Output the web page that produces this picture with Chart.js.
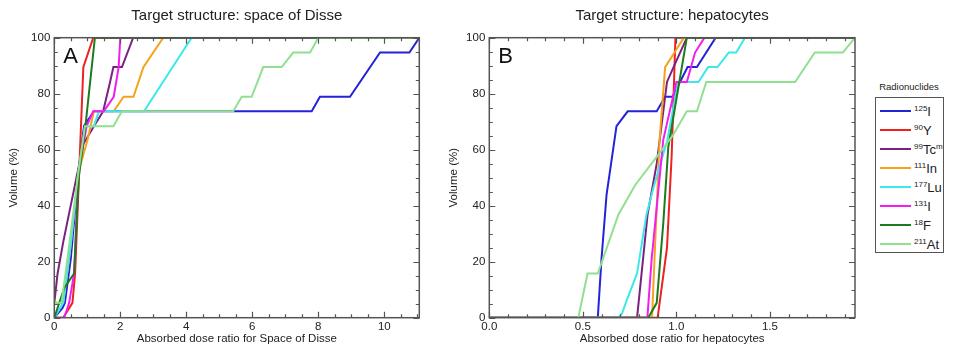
<!DOCTYPE html>
<html>
<head>
<meta charset="utf-8">
<script src="https://cdn.jsdelivr.net/npm/chart.js@4.4.1/dist/chart.umd.min.js"></script>
<style>
  body { margin: 0; background: #fff; font-family: "Liberation Sans", Arial, sans-serif; }
  #wrap { position: relative; width: 953px; height: 346px; overflow: hidden; }
  #chartA { position: absolute; left: 0; top: 0; }
  #chartB { position: absolute; left: 440px; top: 0; }
  #legendTitle { position: absolute; left: 872px; width: 74px; top: 81px; text-align: center; font-size: 9.5px; color: #222; }
  #legend { position: absolute; left: 875px; top: 97px; width: 67px; height: 154px; border: 1.5px solid #555; }
  .item { position: absolute; left: 0; height: 19px; display: flex; align-items: center; }
  .swatch { margin-left: 4px; width: 31px; height: 2px; }
  .lab { margin-left: 3px; font-size: 13px; line-height: 1; color: #222; white-space: nowrap; }
  .lab sup { font-size: 8px; vertical-align: 5px; line-height: 0; }
</style>
</head>
<body>
<div id="wrap">
  <canvas id="chartA" width="430" height="346"></canvas>
  <canvas id="chartB" width="420" height="346"></canvas>
  <div id="legendTitle">Radionuclides</div>
  <div id="legend"></div>
</div>
<script>
// radionuclide labels (mass number, symbol, metastable suffix)
const massNumbers = ["125", "90", "99", "111", "177", "131", "18", "211"];
const symbols = ["I", "Y", "Tc", "In", "Lu", "I", "F", "At"];
const suffixes = ["", "", "m", "", "", "", "", ""];
const colors = ["#2323d8", "#ee2020", "#7b2182", "#f7a21b", "#3de8ea", "#f21df2", "#1d7a1d", "#90e090"];

// tick labels
const yTicks = [0, 20, 40, 60, 80, 100];
const xTicksA = [0, 2, 4, 6, 8, 10];
const xTickLabelsA = ["0", "2", "4", "6", "8", "10"];
const xTicksB = [0, 0.5, 1.0, 1.5];
const xTickLabelsB = ["0.0", "0.5", "1.0", "1.5"];

// panel A: space of Disse, [dose ratio, volume %]
const i125A = [[0,0],[0.25,3.5],[0.32,5.3],[0.5,21.1],[0.73,52],[0.9,68.4],[1.2,73.7],[7.8,73.7],[8.05,78.9],[8.96,78.9],[9.87,94.7],[10.76,94.7],[11.06,100]];
const y90A = [[0,0],[0.27,0],[0.55,5.3],[0.63,15.8],[0.88,89.5],[1.18,100],[11.06,100]];
const tc99mA = [[0,5.3],[0.1,15.8],[0.27,27],[0.88,62],[1.2,68.4],[1.48,73.7],[1.69,84.2],[1.79,89.5],[2.05,89.5],[2.39,100],[11.06,100]];
const in111A = [[0,5.3],[0.27,5.3],[0.45,21.1],[0.73,52],[1.0,63.2],[1.2,73.7],[1.8,73.7],[2.1,78.9],[2.4,78.9],[2.7,89.5],[3.3,100],[11.06,100]];
const lu177A = [[0,0],[0.27,5.3],[0.5,26.3],[0.73,52],[0.93,68.4],[1.2,68.4],[1.35,73.7],[2.72,73.7],[4.16,100],[11.06,100]];
const i131A = [[0,0],[0.3,0],[0.45,5.3],[0.6,15.8],[0.73,52],[0.98,68.4],[1.18,73.7],[1.5,73.7],[1.8,78.9],[1.95,89.5],[2.0,100],[11.06,100]];
const f18A = [[0,0],[0.3,10.5],[0.6,15.8],[0.74,50],[0.93,67],[1.23,100],[11.06,100]];
const at211A = [[0,5.3],[0.22,5.3],[0.4,21.1],[0.73,52],[0.93,68.4],[1.79,68.4],[2.05,73.7],[5.42,73.7],[5.68,78.9],[5.98,78.9],[6.33,89.5],[6.89,89.5],[7.24,94.7],[7.75,94.7],[8.0,100],[11.06,100]];

// panel B: hepatocytes
const i125B = [[0,0],[0.58,0],[0.6,21.1],[0.627,44],[0.68,68.4],[0.74,73.7],[0.895,73.7],[0.94,78.9],[0.98,78.9],[1.06,89.5],[1.11,89.5],[1.21,100],[1.955,100]];
const y90B = [[0,0],[0.9,0],[0.95,25],[0.975,58],[0.995,100],[1.955,100]];
const tc99mB = [[0,0],[0.79,0],[0.846,36.8],[0.895,55],[0.95,84.2],[0.985,89.5],[1.056,100],[1.955,100]];
const in111B = [[0,0],[0.87,0],[0.91,63.2],[0.94,89.5],[0.99,94.7],[1.04,100],[1.955,100]];
const lu177B = [[0,0],[0.69,0],[0.71,1.6],[0.735,6.3],[0.79,15.8],[0.84,36.8],[0.88,47],[0.95,63],[1.01,84.2],[1.118,84.2],[1.17,89.5],[1.22,89.5],[1.28,94.7],[1.32,94.7],[1.367,100],[1.955,100]];
const i131B = [[0,0],[0.845,0],[0.868,21],[0.904,45.6],[0.93,63.5],[1.0,84.2],[1.056,84.2],[1.1,94.7],[1.15,100],[1.955,100]];
const f18B = [[0,0],[0.85,0],[0.895,5.3],[0.93,33.7],[0.957,61],[1.056,100],[1.955,100]];
const at211B = [[0,0],[0.476,0],[0.525,15.8],[0.58,15.8],[0.69,36.8],[0.78,47.4],[0.9,57.9],[0.98,65],[1.056,73.7],[1.11,73.7],[1.16,84.2],[1.635,84.2],[1.74,94.7],[1.89,94.7],[1.955,100]];

const seriesA = [i125A, y90A, tc99mA, in111A, lu177A, i131A, f18A, at211A];
const seriesB = [i125B, y90B, tc99mB, in111B, lu177B, i131B, f18B, at211B];

const FONT = '"Liberation Sans", Arial, sans-serif';
const TEXT = "#222";

function isMajor(v, step) {
  const r = v / step;
  return Math.abs(r - Math.round(r)) < 1e-6;
}

// frame with inward ticks on all sides, panel letter and title
const decoPlugin = {
  id: "deco",
  afterDatasetsDraw(chart, args, opts) {
    const { ctx, chartArea: a, scales: { x, y } } = chart;
    ctx.save();
    ctx.strokeStyle = "#555";
    ctx.lineWidth = 1.2;
    ctx.beginPath();
    for (let i = 0; i * opts.xMinor <= x.max + 1e-9; i++) {
      const v = i * opts.xMinor;
      const px = Math.round(x.getPixelForValue(v)) + 0.5;
      const len = isMajor(v, opts.xMajor) ? 6 : 3.5;
      ctx.moveTo(px, a.bottom); ctx.lineTo(px, a.bottom - len);
      ctx.moveTo(px, a.top); ctx.lineTo(px, a.top + len);
    }
    for (let i = 0; i * opts.yMinor <= y.max + 1e-9; i++) {
      const v = i * opts.yMinor;
      const py = Math.round(y.getPixelForValue(v)) + 0.5;
      const len = isMajor(v, opts.yMajor) ? 6 : 3.5;
      ctx.moveTo(a.left, py); ctx.lineTo(a.left + len, py);
      ctx.moveTo(a.right, py); ctx.lineTo(a.right - len, py);
    }
    ctx.stroke();
    ctx.lineWidth = 1.5;
    ctx.strokeRect(a.left, a.top, a.right - a.left, a.bottom - a.top);

    ctx.fillStyle = "#111";
    ctx.font = "22px " + FONT;
    ctx.textAlign = "left";
    ctx.textBaseline = "alphabetic";
    ctx.fillText(opts.letter, a.left + 9, a.top + 25);

    ctx.fillStyle = TEXT;
    ctx.font = "15px " + FONT;
    ctx.textAlign = "center";
    ctx.textBaseline = "middle";
    ctx.fillText(opts.title, (a.left + a.right) / 2, 16);
    ctx.restore();
  }
};

function buildPanel(id, series, cfg) {
  const canvas = document.getElementById(id);
  new Chart(canvas, {
    type: "line",
    data: {
      datasets: series.map((pts, i) => ({
        label: massNumbers[i] + symbols[i] + suffixes[i],
        data: pts.map(([x, y]) => ({ x, y })),
        borderColor: colors[i],
        backgroundColor: colors[i],
        borderWidth: 2,
        pointRadius: 0,
        tension: 0,
        fill: false,
        order: series.length - i
      }))
    },
    options: {
      responsive: false,
      animation: false,
      layout: { padding: { top: 37.7, right: cfg.padRight, left: 0, bottom: 0 } },
      plugins: {
        legend: { display: false },
        tooltip: { enabled: false },
        deco: cfg.deco
      },
      scales: {
        x: {
          type: "linear",
          min: 0,
          max: cfg.xMax,
          grid: { display: false, drawTicks: false },
          border: { display: false },
          afterBuildTicks: (s) => { s.ticks = cfg.xTicks.map((v) => ({ value: v })); },
          afterFit: (s) => { s.height = 28.3; },
          ticks: {
            autoSkip: false,
            maxRotation: 0,
            padding: 2,
            color: TEXT,
            font: { family: FONT, size: 11.5 },
            callback: (v, idx) => cfg.xLabels[idx]
          },
          title: {
            display: true,
            text: cfg.xTitle,
            color: TEXT,
            font: { family: FONT, size: 11.5 },
            padding: { top: 0, bottom: 0 }
          }
        },
        y: {
          min: 0,
          max: 100,
          grid: { display: false, drawTicks: false },
          border: { display: false },
          afterBuildTicks: (s) => { s.ticks = yTicks.map((v) => ({ value: v })); },
          afterFit: (s) => { s.width = cfg.yWidth; },
          ticks: {
            padding: 4,
            color: TEXT,
            font: { family: FONT, size: 11.5 }
          },
          title: {
            display: true,
            text: "Volume (%)",
            color: TEXT,
            font: { family: FONT, size: 11.5 },
            padding: { top: 7, bottom: 0 }
          }
        }
      }
    },
    plugins: [decoPlugin]
  });
}

function buildLegend() {
  const box = document.getElementById("legend");
  massNumbers.forEach((m, i) => {
    const item = document.createElement("div");
    item.className = "item";
    item.style.top = (3.5 + i * 19) + "px";
    const sw = document.createElement("div");
    sw.className = "swatch";
    sw.style.background = colors[i];
    const lab = document.createElement("span");
    lab.className = "lab";
    lab.innerHTML = "<sup>" + m + "</sup>" + symbols[i] + (suffixes[i] ? "<sup>" + suffixes[i] + "</sup>" : "");
    item.appendChild(sw);
    item.appendChild(lab);
    box.appendChild(item);
  });
}

buildPanel("chartA", seriesA, {
  xMax: 11.06,
  xTicks: xTicksA,
  xLabels: xTickLabelsA,
  xTitle: "Absorbed dose ratio for Space of Disse",
  yWidth: 54.3,
  padRight: 10.7,
  deco: { letter: "A", title: "Target structure: space of Disse", xMinor: 0.5, xMajor: 2, yMinor: 5, yMajor: 20 }
});

buildPanel("chartB", seriesB, {
  xMax: 1.955,
  xTicks: xTicksB,
  xLabels: xTickLabelsB,
  xTitle: "Absorbed dose ratio for hepatocytes",
  yWidth: 49.3,
  padRight: 5,
  deco: { letter: "B", title: "Target structure: hepatocytes", xMinor: 0.1, xMajor: 0.5, yMinor: 5, yMajor: 20 }
});

buildLegend();
</script>
</body>
</html>
